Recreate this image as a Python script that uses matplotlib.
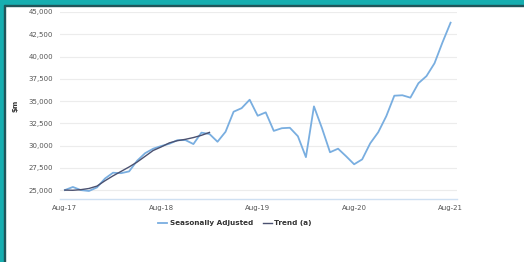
import numpy as np
import matplotlib
matplotlib.use("Agg")
import matplotlib.pyplot as plt
from matplotlib.patches import Rectangle

# DATA (monthly, Aug-17 .. Aug-21, $m)

seasonally_adjusted = [
    25000, 25350, 25000, 24900, 25300, 26300, 26950, 26900, 27100, 28300,
    29150, 29650, 29950, 30200, 30600, 30620, 30170, 31450, 31300, 30430,
    31550, 33800, 34200, 35150, 33350, 33730, 31650, 31950, 32000, 31050,
    28700, 34400, 31950, 29250, 29650, 28800, 27900, 28450, 30250, 31500,
    33300, 35600, 35650, 35380, 37000, 37800, 39240, 41600, 43800,
]

trend = [
    25000, 24980, 25050, 25180, 25450, 26050, 26600, 27100, 27600, 28150,
    28800, 29450, 29850, 30300, 30550, 30700, 30900, 31150, 31480,
]

tick_pos = [0, 12, 24, 36, 48]
tick_labels = ["Aug-17", "Aug-18", "Aug-19", "Aug-20", "Aug-21"]
y_ticks = np.arange(25000, 45001, 2500)

SA_COLOR = "#79aee0"
TREND_COLOR = "#4b5170"

# PLOT

fig = plt.figure(figsize=(5.24, 2.62), dpi=100)
ax = fig.add_axes([60 / 524, 1 - 199 / 262, 397 / 524, 187 / 262])

ax.plot(range(len(seasonally_adjusted)), seasonally_adjusted,
        color=SA_COLOR, lw=1.3, label="Seasonally Adjusted")
ax.plot(range(len(trend)), trend,
        color=TREND_COLOR, lw=1.0, label="Trend (a)")

ax.set_xlim(-0.6, 48.8)
ax.set_ylim(24000, 45000)
ax.set_yticks(y_ticks)
ax.set_yticklabels([f"{v:,}" for v in y_ticks])
ax.set_xticks(tick_pos)
ax.set_xticklabels(tick_labels)

ax.grid(axis="y", color="#ececec", lw=0.8)
ax.set_axisbelow(True)
for side in ["top", "right", "left"]:
    ax.spines[side].set_visible(False)
ax.spines["bottom"].set_color("#cfe0f2")
ax.spines["bottom"].set_linewidth(1.0)
ax.tick_params(length=0, labelsize=5, labelcolor="#555555", pad=5)
ax.tick_params(axis="x", pad=4)

ax.set_ylabel("$m", fontsize=5, color="#333333", fontweight="bold", labelpad=7)

leg = fig.legend(loc="center", bbox_to_anchor=(235 / 524, 1 - 223 / 262),
                 ncol=2, frameon=False, fontsize=5.2, handlelength=1.2,
                 columnspacing=1.4, handletextpad=0.4)
for t in leg.get_texts():
    t.set_fontweight("bold")
    t.set_color("#333333")

# teal frame on top/left edge
fig.patches.append(Rectangle((0, 1 - 5 / 262), 1, 5 / 262, transform=fig.transFigure,
                             color="#16aeb0", zorder=10))
fig.patches.append(Rectangle((0, 1 - 6 / 262), 1, 1.2 / 262, transform=fig.transFigure,
                             color="#20555a", zorder=10))
fig.patches.append(Rectangle((0, 0), 3.5 / 524, 1, transform=fig.transFigure,
                             color="#16aeb0", zorder=10))
fig.patches.append(Rectangle((3.5 / 524, 0), 1.2 / 524, 1 - 5 / 262, transform=fig.transFigure,
                             color="#20555a", zorder=10))

fig.savefig("out.png", dpi=100)
